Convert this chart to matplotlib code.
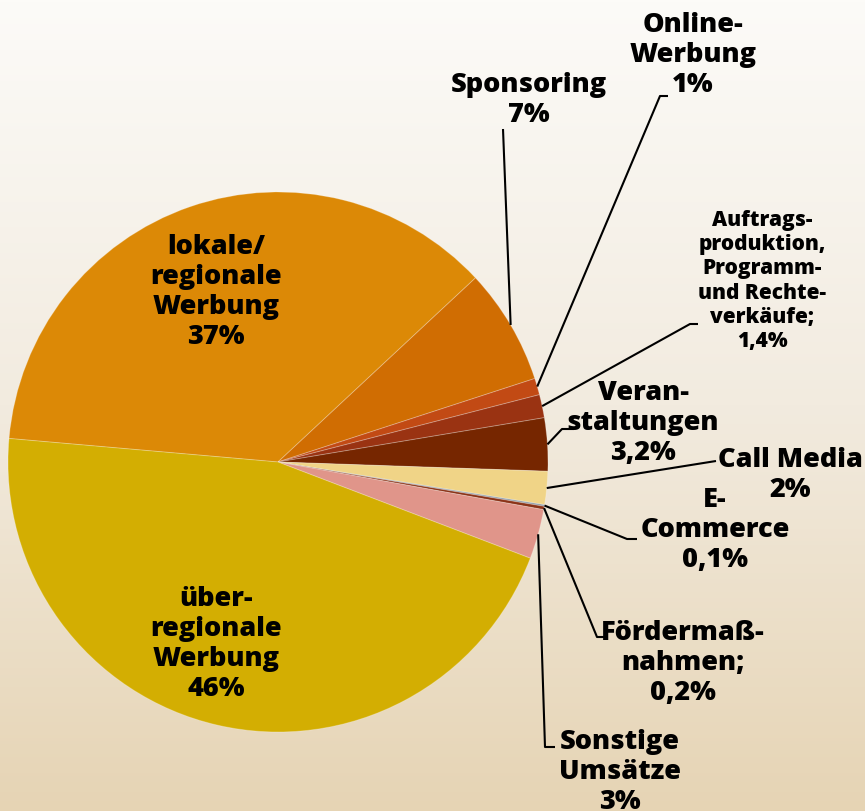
import numpy as np
import matplotlib.pyplot as plt
from matplotlib.colors import LinearSegmentedColormap

# data (clockwise from the left)
labels = ["lokale/\nregionale\nWerbung\n37%", "Sponsoring\n7%", "Online-\nWerbung\n1%",
          "Auftrags-\nproduktion,\nProgramm-\nund Rechte-\nverkäufe;\n1,4%",
          "Veran-\nstaltungen\n3,2%", "Call Media\n2%", "E-\nCommerce\n0,1%",
          "Fördermaß-\nnahmen;\n0,2%", "Sonstige\nUmsätze\n3%", "über-\nregionale\nWerbung\n46%"]
values = [37, 7, 1, 1.4, 3.2, 2, 0.1, 0.2, 3, 46]
colors = ["#DC8906", "#D06D02", "#C24A14", "#9A3312", "#762600", "#F0D487",
          "#8C9AA6", "#8B3317", "#E0958A", "#D3AE02"]

W, H = 865, 812
fig = plt.figure(figsize=(W / 100, H / 100), dpi=100)

# background gradient
bg = fig.add_axes([0, 0, 1, 1])
cmap = LinearSegmentedColormap.from_list("bg", ["#FCFBF8", "#F2EBDF", "#E6D4B4"])
bg.imshow(np.linspace(0, 1, 256).reshape(-1, 1), aspect="auto", cmap=cmap,
          extent=[0, 1, 0, 1], origin="upper")
bg.axis("off")

ax = fig.add_axes([0, 0, 1, 1])
ax.patch.set_alpha(0)

cx, cy, R = 278, H - 463, 270
wedges, _ = ax.pie(values, colors=colors, startangle=175, counterclock=False,
                   radius=R, center=(cx, cy),
                   wedgeprops=dict(edgecolor=(1, 1, 1, 0.25), linewidth=0.7))
ax.set_xlim(0, W)
ax.set_ylim(0, H)
ax.set_aspect("equal")
ax.axis("off")

fs = 19.5
font = dict(fontweight=800, ha="center", va="center", family=["Open Sans", "DejaVu Sans"],
            linespacing=1.2)

# inside labels
ax.text(216, H - 292, labels[0], fontsize=fs, **font)
ax.text(216, H - 644, labels[9], fontsize=fs, **font)

# outside labels: (wedge index, elbow point, end point, text pos, size)
outside = [
    (1, (503, 130), None, (529, 100), fs),
    (2, (660, 97), (668, 97), (693, 55), fs),
    (3, (690, 325), (698, 325), (762, 281), 15),
    (4, (562, 430), (574, 430), (643, 423), fs),
    (5, (716, 462), None, (790, 475), fs),
    (6, (627, 540), (637, 540), (715, 530), fs),
    (7, (597, 638), (607, 638), (683, 663), fs),
    (8, (545, 748), (555, 748), (620, 772), fs),
]
for i, elbow, end, tpos, size in outside:
    w = wedges[i]
    ang = np.deg2rad((w.theta1 + w.theta2) / 2)
    x0 = cx + R * np.cos(ang)
    y0 = cy + R * np.sin(ang)
    xs = [x0, elbow[0]]
    ys = [y0, H - elbow[1]]
    if end is not None:
        xs.append(end[0])
        ys.append(H - end[1])
    ax.plot(xs, ys, color="black", lw=1.5, solid_capstyle="butt")
    ax.text(tpos[0], H - tpos[1], labels[i], fontsize=size, **font)

fig.savefig("out.png", dpi=100)
